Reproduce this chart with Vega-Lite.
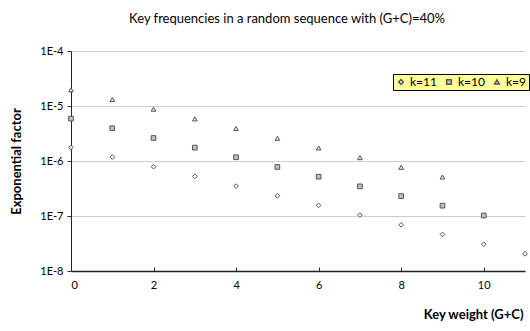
{
  "$schema": "https://vega.github.io/schema/vega-lite/v6.json",
  "width": 454,
  "height": 220,
  "autosize": {"type": "none"},
  "padding": {"left": 71, "top": 51, "right": 5, "bottom": 60},
  "background": "white",
  "title": {
    "text": "Key frequencies in a random sequence with (G+C)=40%",
    "font": "Lato",
    "fontSize": 13,
    "fontWeight": "normal",
    "color": "black",
    "anchor": "middle",
    "dx": -11,
    "offset": 19
  },
  "data": {
    "values": [
      {"w": 0, "k": "k=11", "v": 1.77e-6},
      {"w": 1, "k": "k=11", "v": 1.18e-6},
      {"w": 2, "k": "k=11", "v": 7.87e-7},
      {"w": 3, "k": "k=11", "v": 5.25e-7},
      {"w": 4, "k": "k=11", "v": 3.50e-7},
      {"w": 5, "k": "k=11", "v": 2.33e-7},
      {"w": 6, "k": "k=11", "v": 1.56e-7},
      {"w": 7, "k": "k=11", "v": 1.04e-7},
      {"w": 8, "k": "k=11", "v": 6.91e-8},
      {"w": 9, "k": "k=11", "v": 4.61e-8},
      {"w": 10, "k": "k=11", "v": 3.07e-8},
      {"w": 11, "k": "k=11", "v": 2.05e-8},
      {"w": 0, "k": "k=10", "v": 5.90e-6},
      {"w": 1, "k": "k=10", "v": 3.94e-6},
      {"w": 2, "k": "k=10", "v": 2.62e-6},
      {"w": 3, "k": "k=10", "v": 1.75e-6},
      {"w": 4, "k": "k=10", "v": 1.17e-6},
      {"w": 5, "k": "k=10", "v": 7.78e-7},
      {"w": 6, "k": "k=10", "v": 5.18e-7},
      {"w": 7, "k": "k=10", "v": 3.46e-7},
      {"w": 8, "k": "k=10", "v": 2.30e-7},
      {"w": 9, "k": "k=10", "v": 1.54e-7},
      {"w": 10, "k": "k=10", "v": 1.02e-7},
      {"w": 0, "k": "k=9", "v": 1.97e-5},
      {"w": 1, "k": "k=9", "v": 1.31e-5},
      {"w": 2, "k": "k=9", "v": 8.75e-6},
      {"w": 3, "k": "k=9", "v": 5.83e-6},
      {"w": 4, "k": "k=9", "v": 3.89e-6},
      {"w": 5, "k": "k=9", "v": 2.59e-6},
      {"w": 6, "k": "k=9", "v": 1.73e-6},
      {"w": 7, "k": "k=9", "v": 1.15e-6},
      {"w": 8, "k": "k=9", "v": 7.68e-7},
      {"w": 9, "k": "k=9", "v": 5.12e-7}
    ]
  },
  "mark": {"type": "point", "filled": false, "size": 22, "strokeWidth": 1, "opacity": 1},
  "encoding": {
    "x": {
      "field": "w",
      "type": "quantitative",
      "scale": {"domain": [0, 11], "nice": false, "zero": false},
      "axis": {
        "title": "Key weight (G+C)",
        "values": [0, 2, 4, 6, 8, 10],
        "grid": false,
        "domainColor": "#222222",
        "domainWidth": 1.5,
        "tickColor": "#333333",
        "tickSize": -4,
        "labelFont": "Lato",
        "labelFontSize": 11,
        "labelColor": "black",
        "labelPadding": 12,
        "titleFont": "Lato",
        "titleFontSize": 13,
        "titleFontWeight": "bold",
        "titleColor": "black",
        "titleAnchor": "end",
        "titleAlign": "right",
        "titleX": 452,
        "titleY": 37
      }
    },
    "y": {
      "field": "v",
      "type": "quantitative",
      "scale": {"type": "log", "domain": [1e-8, 1e-4], "nice": false},
      "axis": {
        "title": "Exponential factor",
        "values": [1e-8, 1e-7, 1e-6, 1e-5, 1e-4],
        "labelExpr": "'1E' + round(log(datum.value)/LN10)",
        "grid": true,
        "gridColor": "#cccccc",
        "domainColor": "#222222",
        "tickColor": "#333333",
        "tickSize": 4,
        "labelFont": "Lato",
        "labelFontSize": 11,
        "labelColor": "black",
        "labelPadding": 4,
        "titleFont": "Lato",
        "titleFontSize": 13,
        "titleFontWeight": "bold",
        "titleColor": "black",
        "titleX": -48,
        "titleY": 110,
        "titleAnchor": "middle"
      }
    },
    "shape": {
      "field": "k",
      "type": "nominal",
      "scale": {"domain": ["k=11", "k=10", "k=9"], "range": ["diamond", "square", "triangle-up"]},
      "legend": {
        "title": null,
        "orient": "none",
        "legendX": 322,
        "legendY": 23,
        "direction": "horizontal",
        "fillColor": "#FFFF99",
        "strokeColor": "black",
        "padding": 2,
        "columnPadding": 6,
        "symbolSize": 22,
        "symbolStrokeColor": "#555555",
        "symbolFillColor": "#cccccc",
        "symbolOffset": 0,
        "labelOffset": 3,
        "labelFont": "Lato",
        "labelFontSize": 12,
        "labelColor": "black"
      }
    },
    "fill": {
      "field": "k",
      "type": "nominal",
      "scale": {"domain": ["k=11", "k=10", "k=9"], "range": ["#ffffff", "#c0c0c0", "#e8e8e8"]},
      "legend": null
    },
    "stroke": {"value": "#555555"}
  },
  "config": {
    "view": {"stroke": null}
  }
}
